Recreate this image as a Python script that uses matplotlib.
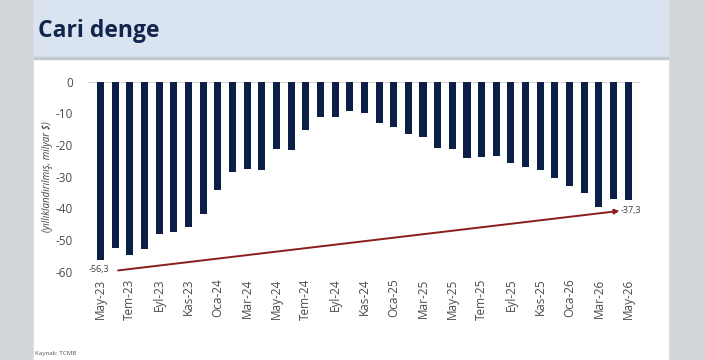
import matplotlib.pyplot as plt
from matplotlib.patches import Rectangle
import numpy as np

plt.rcParams['font.family'] = ['Open Sans', 'DejaVu Sans']

months = ["May", "Haz", "Tem", "Ağu", "Eyl", "Eki", "Kas", "Ara",
          "Oca", "Şub", "Mar", "Nis"]
start_year = 23
n_bars = 37
values = [-56.3, -52.5, -54.8, -52.7, -48.2, -47.4, -45.9, -41.9,
          -34.2, -28.5, -27.6, -27.8, -21.2, -21.6, -15.2, -11.1,
          -11.3, -9.4, -10.0, -12.9, -14.4, -16.6, -17.6, -21.0,
          -21.4, -24.2, -23.7, -23.5, -25.6, -27.0, -27.8, -30.3,
          -33.0, -35.1, -39.6, -36.9, -37.3]

labels = []
for i in range(n_bars):
    m = i % 12
    yr = start_year + (i + 4) // 12
    labels.append(f"{months[m]}-{yr}")

navy = "#0b1f47"

fig = plt.figure(figsize=(7.05, 3.6), dpi=100)
fig.patch.set_facecolor("white")

# slide background: gray edges, white panel, blue header
fig.patches.append(Rectangle((0, 0), 1, 1, transform=fig.transFigure,
                             color="#d2d5da", zorder=-10))
fig.patches.append(Rectangle((34 / 705, 0), 634 / 705, 1, transform=fig.transFigure,
                             color="white", zorder=-9))
fig.patches.append(Rectangle((34 / 705, 1 - 57 / 360), 634 / 705, 57 / 360,
                             transform=fig.transFigure, color="#dae3f0", zorder=-8))
fig.patches.append(Rectangle((34 / 705, 1 - 59 / 360), 634 / 705, 2.5 / 360,
                             transform=fig.transFigure, color="#c3c9d1", zorder=-8))

fig.text(38 / 705, 1 - 31 / 360, "Cari denge", fontsize=16.5, fontweight="bold",
         color="#14254d", va="center", ha="left")
fig.text(35 / 705, 1 - 353 / 360, "Kaynak: TCMB", fontsize=4.5, color="#555555",
         va="center", ha="left")

ax = fig.add_axes([88 / 705, 1 - 271.7 / 360, 552 / 705, 190 / 360])
ax.set_facecolor("none")
x = np.arange(n_bars)
ax.bar(x, values, width=0.48, color=navy, zorder=3)
ax.axhline(0, color="#d9d9d9", lw=0.8, zorder=1)

ax.set_ylim(-60, 0)
ax.set_xlim(-0.85, n_bars - 0.2)
ax.set_yticks(range(-60, 1, 10))
ax.set_yticklabels([str(v) for v in range(-60, 1, 10)])
ax.set_xticks(x[::2])
ax.set_xticklabels(labels[::2], rotation=90)
ax.tick_params(axis="both", length=0, labelsize=8.5, colors="#4a4a4a")
ax.tick_params(axis="y", pad=11)
ax.tick_params(axis="x", pad=5)
for s in ax.spines.values():
    s.set_visible(False)

ax.set_ylabel("(yıllıklandırılmış, milyar $)", fontsize=7, style="italic",
              color="#404040", labelpad=1.5)

# trend arrow from first to last value
ax.annotate("", xy=(n_bars - 1.6, values[-1] - 3.5), xytext=(1.2, values[0] - 3.3),
            arrowprops=dict(arrowstyle="-|>", color="#8b1d1d", lw=1.4,
                            mutation_scale=7, shrinkA=0, shrinkB=0),
            annotation_clip=False, zorder=4)
ax.text(-0.8, values[0] - 3.0, "-56,3", fontsize=6.5, color="#404040",
        ha="left", va="center", clip_on=False)
ax.text(n_bars - 1.5, values[-1] - 3.5, "-37,3", fontsize=6.5, color="#404040",
        ha="left", va="center", clip_on=False)

fig.savefig("out.png", dpi=100)
